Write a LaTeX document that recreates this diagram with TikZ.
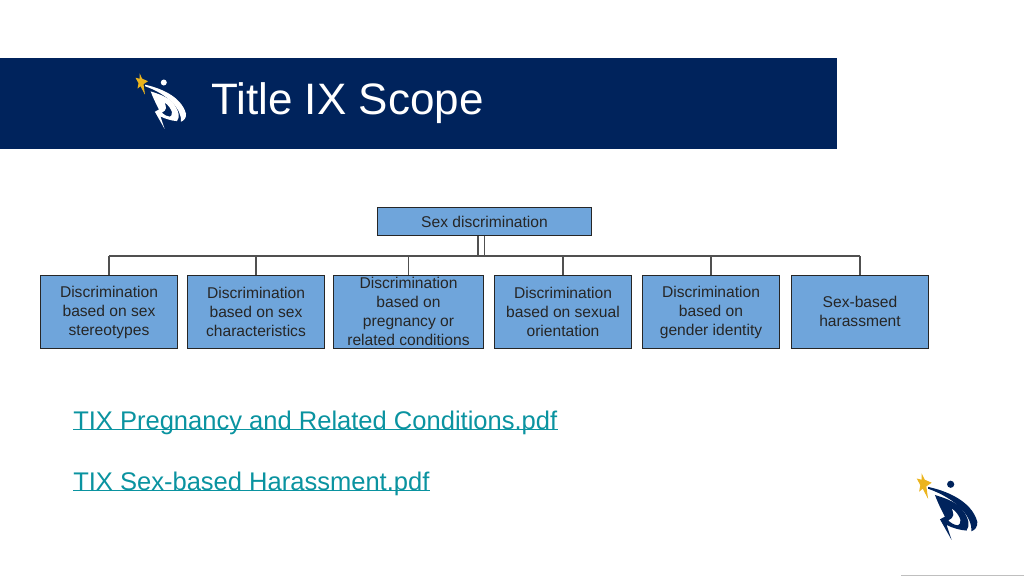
\documentclass[tikz,border=0pt]{standalone}
\usepackage{fontspec}
\setmainfont{Liberation Sans}
\definecolor{bandblue}{HTML}{00235C}
\definecolor{boxblue}{HTML}{6FA5DB}
\definecolor{linkteal}{HTML}{0A93A0}
\definecolor{stargold}{HTML}{EBB41E}
\definecolor{wirecolor}{HTML}{505050}
\newcommand{\boxstrut}{\rule[-2pt]{0pt}{13.5pt}}
\newcommand{\rowstrut}{\rule[-0.7pt]{0pt}{19pt}}
\tikzset{
    orgbox/.style={draw=black!85, line width=0.9pt, fill=boxblue, text=black!85, align=center, inner sep=0pt,
        font=\fontsize{11.7}{14.25}\selectfont},
    headbox/.style={orgbox, minimum width=160pt, minimum height=21.5pt,
        execute at begin node=\boxstrut, execute at end node=\boxstrut},
    rowbox/.style={orgbox, minimum width=103pt, minimum height=55pt,
        execute at begin node=\rowstrut, execute at end node=\rowstrut},
    wire/.style={draw=wirecolor, line width=0.85pt},
    doclink/.style={text=linkteal, anchor=base west, inner sep=0pt, font=\fontsize{19.15}{23}\selectfont},
    linkline/.style={draw=linkteal, line width=1pt, yshift=-2.5pt},
    logo/.pic={
        \fill[stargold] (-1.4,-8.3) -- (1.2,-3) -- (7,-0.5) -- (2.5,2.5) -- (4,13) -- (-0.5,4.5) -- (-3.5,7) -- (-2.5,1.5) -- (-5.5,-4) -- (-1.5,-3) -- cycle;
        \fill[pic actions] (22.8,0.8) circle (3);
        % swoosh
        \fill[pic actions] (4,3) .. controls (18,6) and (40,14) .. (45,32) .. controls (45.5,36) and (43,39) .. (40,40)
            .. controls (41,28) and (28,13) .. (4,4.5) -- cycle;
        % body and leg
        \fill[pic actions, even odd rule] (9.7,9.7) .. controls (20,13) and (29,16) .. (34,24) .. controls (38,30) and (39,35) .. (36,39.4)
            .. controls (30,39) and (24,37) .. (19.4,34.7) -- (23.6,47.2) -- (13.9,30) -- (18,27.8) .. controls (15,22) and (12,16) .. (9.7,9.7) -- cycle
            (23.6,20.8) .. controls (27,23) and (30,27) .. (31,30.5) .. controls (31,33) and (30,35) .. (29,35)
            .. controls (26,35) and (23,33) .. (20.8,31) .. controls (23,30) and (25,28) .. (25,26.4) .. controls (25,24) and (24,22) .. (23.6,20.8) -- cycle;
    }
}
\begin{document}
\begin{tikzpicture}[x=0.75pt,y=-0.75pt]
    \useasboundingbox (0,0) rectangle (1024,576);
    \fill[bandblue] (0,58) rectangle (837,149);
    \pic[fill=white] at (141,81.7) {logo};
    \node[anchor=base west, inner sep=0pt, text=white, font=\fontsize{33}{36}\selectfont] (title) at (211,114.5) {Title IX Scope};

    \node[headbox] (sexdisc) at (484.5,221.5) {Sex discrimination};
    \node[rowbox] (stereotypes) at (109,312) {Discrimination\\based on sex\\stereotypes};
    \node[rowbox] (characteristics) at (256,312) {Discrimination\\based on sex\\characteristics};
    \node[rowbox, minimum width=113pt] (pregnancy) at (408.5,312) {Discrimination\\based on\\pregnancy or\\related conditions};
    \node[rowbox] (orientation) at (563,312) {Discrimination\\based on sexual\\orientation};
    \node[rowbox] (identity) at (711,312) {Discrimination\\based on\\gender identity};
    \node[rowbox] (harassment) at (860,312) {Sex-based\\harassment};

    \coordinate (busleft) at (109,256);
    \coordinate (busright) at (860,256);
    \coordinate (trunka) at (478,256);
    \coordinate (trunkb) at (484.5,256);
    \draw[wire] (busleft) -- (busright);
    \draw[wire] (sexdisc.south -| trunka) -- (trunka);
    \draw[wire] (sexdisc.south -| trunkb) -- (trunkb);
    \foreach \kid in {stereotypes,characteristics,pregnancy,orientation,identity,harassment}
        \draw[wire] (\kid.north |- busleft) -- (\kid.north);

    \node[doclink] (pdfa) at (73,429.5) {TIX Pregnancy and Related Conditions.pdf};
    \node[doclink] (pdfb) at (73,490.5) {TIX Sex-based Harassment.pdf};
    \draw[linkline] (pdfa.base west) -- (pdfa.base east);
    \draw[linkline] (pdfb.base west) -- (pdfb.base east);

    \pic[fill=bandblue, scale=1.2] at (923.3,483.3) {logo};
    \draw[black!25, line width=0.75pt] (901,575) -- (1024,575);
\end{tikzpicture}
\end{document}
